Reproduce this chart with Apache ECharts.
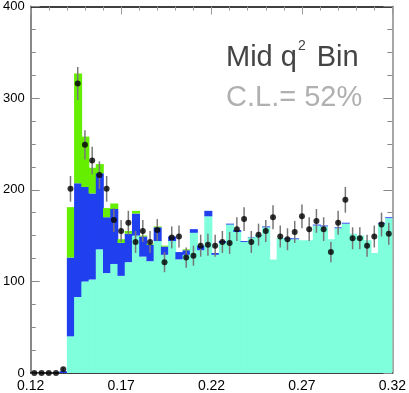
<!DOCTYPE html>
<html>
<head>
<meta charset="utf-8">
<script src="https://cdn.jsdelivr.net/npm/echarts@6/dist/echarts.min.js"></script>
<style>
html,body{margin:0;padding:0;background:#fff;}
#chart{width:409px;height:393px;}
</style>
</head>
<body>
<div id="chart"></div>
<script>
// Bin layout (50 bins of width 0.004 from 0.12 to 0.32)
var xMin = 0.12, xMax = 0.32, binWidth = 0.004;
var binStarts = [];
for (var i = 0; i < 50; i++) binStarts.push(+(xMin + i * binWidth).toFixed(3));

// Stacked histogram components (heights of each layer)
var cyanVals = [0,0,0,0,0,40,83,100,102,135,109,119,106,121,150,127,122,144,129,144,124,129,153,134,171,129,142,162,154,143,148,150,159,124,147,146,146,145,145,161,160,146,158,163,152,150,145,131,163,169];
var blueVals = [0,0,0,0,2,86,124,103,94,83,61,60,36,31,24,22,18,15,9,5,8,5,4,5,6,2,2,1,2,1,0.5,0.5,1,0,0,1,1,0,0,1,1,0,1,1,0,0,0,0,1,1];
var greenVals = [0,0,0,0,0,55,120,55,28,10,10,6,4,3,3,1,1,1,1,0,0,1,0,0,0,0,0,0,0,0,0,0,0,0,0,0,0,0,0,0,0,0,0,0,0,0,0,0,0,0];

// Data points and their errors
var dataVals = [0,0,0,0,4,201,316,249,232,216,201,167,155,164,143,155,143,156,121,148,149,126,128,139,140,139,143,142,157,168,143,151,155,170,149,146,154,171,157,166,157,132,164,189,147,147,139,149,162,152];
var dataErr = [0,0,1.5,0,2,14,18,16,15,15,14,13,12,13,12,12,12,12,11,12,12,11,11,12,12,12,12,12,13,13,12,12,12,13,12,12,12,13,13,13,13,11,13,14,12,12,12,12,13,12];

// Tick labels
var yTicks = [0,100,200,300,400];
var xTickLabels = ['0.12','0.17','0.22','0.27','0.32'];

var COL_CYAN = '#7fffdc', COL_BLUE = '#2040f0', COL_GREEN = '#66ee00';

var histData = binStarts.map(function(s, i){
  return [s, s + binWidth, cyanVals[i], blueVals[i], greenVals[i]];
});
var pointData = binStarts.map(function(s, i){ return [s + binWidth/2, dataVals[i]]; });
var errData = binStarts.map(function(s, i){ return [s + binWidth/2, dataVals[i] - dataErr[i], dataVals[i] + dataErr[i]]; });

var chart = echarts.init(document.getElementById('chart'), null, {renderer:'canvas'});
var FONT = 'Liberation Sans, Arial, sans-serif';

var option = {
  animation:false,
  backgroundColor:'#fff',
  grid:{left:28, right:13, top:5, bottom:20, containLabel:false},
  xAxis:[{
    type:'value', position:'bottom', min:xMin, max:xMax, interval:0.05,
    axisLine:{show:true, onZero:false, lineStyle:{color:'#000', width:1.5}},
    axisTick:{show:false}, splitLine:{show:false},
    axisLabel:{margin:6, showMinLabel:true, showMaxLabel:true, fontFamily:FONT, fontSize:14, color:'#000',
      formatter:function(v){ var k = Math.round((v - xMin) / 0.05); return xTickLabels[k] || v.toFixed(2); }}
  },{
    type:'value', position:'top', min:xMin, max:xMax, interval:0.05,
    axisLine:{show:true, onZero:false, lineStyle:{color:'#000', width:1.5}},
    axisTick:{show:true, inside:true, length:8, lineStyle:{color:'#999'}},
    minorTick:{show:true, splitNumber:5, length:4, lineStyle:{color:'#999'}},
    axisLabel:{show:false}, splitLine:{show:false}
  }],
  yAxis:[{
    type:'value', position:'left', min:yTicks[0], max:yTicks[yTicks.length-1], interval:100,
    axisLine:{show:true, onZero:false, lineStyle:{color:'#888', width:2}},
    axisTick:{show:true, inside:true, length:9, lineStyle:{color:'#888'}},
    minorTick:{show:true, splitNumber:4, length:5, lineStyle:{color:'#888'}},
    splitLine:{show:false},
    axisLabel:{margin:6, fontFamily:FONT, fontSize:13, color:'#000'}
  },{
    type:'value', position:'right', min:yTicks[0], max:yTicks[yTicks.length-1], interval:100,
    axisLine:{show:true, onZero:false, lineStyle:{color:'#888', width:1.5}},
    axisTick:{show:true, inside:true, length:9, lineStyle:{color:'#888'}},
    minorTick:{show:true, splitNumber:4, length:5, lineStyle:{color:'#888'}},
    splitLine:{show:false}, axisLabel:{show:false}
  }],
  series:[{
    type:'custom', xAxisIndex:0, yAxisIndex:0, z:1,
    data:histData,
    renderItem:function(params, api){
      var x0 = api.value(0), x1 = api.value(1);
      var c = api.value(2), b = api.value(3), g = api.value(4);
      var layers = [[0, c, COL_CYAN], [c, c + b, COL_BLUE], [c + b, c + b + g, COL_GREEN]];
      var children = [];
      layers.forEach(function(L){
        if (L[1] <= L[0]) return;
        var p0 = api.coord([x0, L[0]]), p1 = api.coord([x1, L[1]]);
        var isLast = x1 >= xMax - 1e-9;
        children.push({type:'rect', shape:{x:p0[0], y:p1[1], width:p1[0]-p0[0] + (isLast ? 0 : 0.8), height:p0[1]-p1[1]},
          style:{fill:L[2]}});
      });
      return {type:'group', children:children};
    }
  },{
    type:'custom', xAxisIndex:0, yAxisIndex:0, z:3,
    data:errData,
    renderItem:function(params, api){
      var lo = api.coord([api.value(0), api.value(1)]);
      var hi = api.coord([api.value(0), api.value(2)]);
      return {type:'line', shape:{x1:lo[0], y1:lo[1], x2:hi[0], y2:hi[1]},
        style:{stroke:'#777', lineWidth:1.5}};
    }
  },{
    type:'scatter', xAxisIndex:0, yAxisIndex:0, z:4,
    data:pointData, symbol:'circle', symbolSize:6,
    itemStyle:{color:'#000'}
  }],
  graphic:[{
    type:'text', left:226, top:39, z:10,
    style:{
      text:'{a|Mid q}{s|2}{a| Bin}',
      rich:{
        a:{fontFamily:'Liberation Sans Narrow, ' + FONT, fontSize:29, fill:'#444', lineHeight:33, verticalAlign:'bottom'},
        s:{fontFamily:'Liberation Sans Narrow, ' + FONT, fontSize:14, fill:'#444', lineHeight:33, verticalAlign:'top', padding:[0,3,14,1]}
      }
    }
  },{
    type:'text', left:226, top:83, z:10,
    style:{text:'C.L.= 52%', fontFamily:FONT, fontSize:29, fill:'#b0b0b0'}
  }]
};
chart.setOption(option);
</script>
</body>
</html>
